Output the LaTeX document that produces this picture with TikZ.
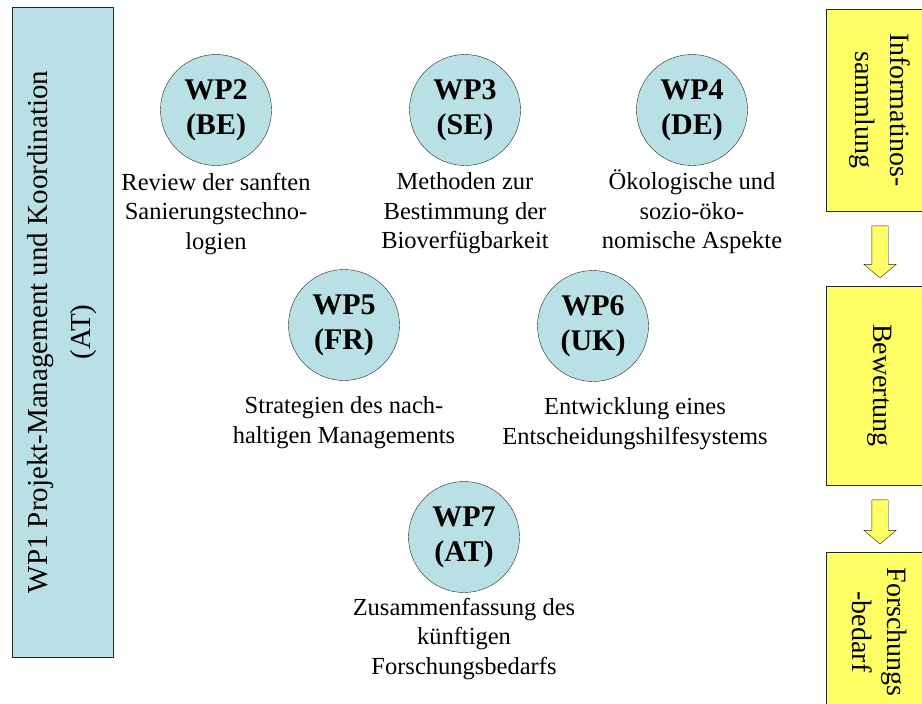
\documentclass[tikz,border=0pt]{standalone}
\usepackage{fontspec}
\setmainfont{Liberation Serif}
\usetikzlibrary{positioning,shapes.arrows,calc}
\definecolor{wpblue}{RGB}{185,224,228}
\definecolor{phaseyellow}{RGB}{255,255,102}
\begin{document}
\begin{tikzpicture}[x=1pt,y=-1pt,line join=round,font=\fontsize{24.5}{29.5}\selectfont]
	\tikzset{wp/.style={circle,draw=black!85,fill=wpblue,minimum size=111pt,inner sep=0pt,align=center,font=\fontsize{30}{35}\selectfont\bfseries},
		lbl/.style={align=center,inner sep=0pt},
		phase/.style={draw=black!85,fill=phaseyellow,rotate=-90,minimum height=108pt,inner sep=0pt,align=center,font=\fontsize{28}{35}\selectfont},
		flow/.style={single arrow,draw=black!85,fill=phaseyellow,rotate=-90,minimum width=32pt,single arrow head extend=8pt,single arrow tip angle=100,inner xsep=0pt,inner ysep=8pt}}
	\useasboundingbox (0,0) rectangle (922,704);
	\clip (0,0) rectangle (922,704);
	% WP1 Rahmen links
	\node[draw=black!85,fill=wpblue,rotate=90,minimum width=650pt,minimum height=101pt,inner sep=0pt,align=center,font=\fontsize{29}{43}\selectfont] (wp1) at (62.5,332) {WP1 Projekt-Management und Koordination\\(AT)};
	% Arbeitspakete
	\foreach \n/\x/\y/\c in {2/216/110/BE,3/465/110/SE,4/692/110/DE,5/344/325/FR,6/593/326/UK,7/464/537/AT}
		\node[wp] (wp\n) at (\x,\y) {WP\n\\(\c)};
	\foreach \n/\d/\s/\t in {2/7/0/{Review der sanften\\Sanierungstechno-\\logien},
		3/7/0/{Methoden zur\\Bestimmung der\\Bioverfügbarkeit},
		4/4/0/{Ökologische und\\sozio-öko-\\nomische Aspekte},
		5/16/0/{Strategien des nach-\\haltigen Managements},
		6/16/42/{Entwicklung eines\\Entscheidungshilfesystems},
		7/5/0/{Zusammenfassung des\\künftigen\\Forschungsbedarfs}}
		\node[lbl,below=\d pt of wp\n,xshift=\s pt] (lbl\n) {\t};
	% Ablauf rechts
	\node[phase,minimum width=202pt] (info) at (880,110) {Informatinos-\\sammlung};
	\node[phase,minimum width=199pt] (bew) at (880,385.5) {Bewertung};
	\node[phase,minimum width=160pt] (fb) at (880,632) {Forschungs\\-bedarf};
	\node[flow,minimum height=52pt] (a1) at ($(info.east)!0.5!(bew.west)$) {};
	\node[flow,minimum height=44pt] (a2) at ($(bew.east)!0.5!(fb.west)$) {};
\end{tikzpicture}
\end{document}
